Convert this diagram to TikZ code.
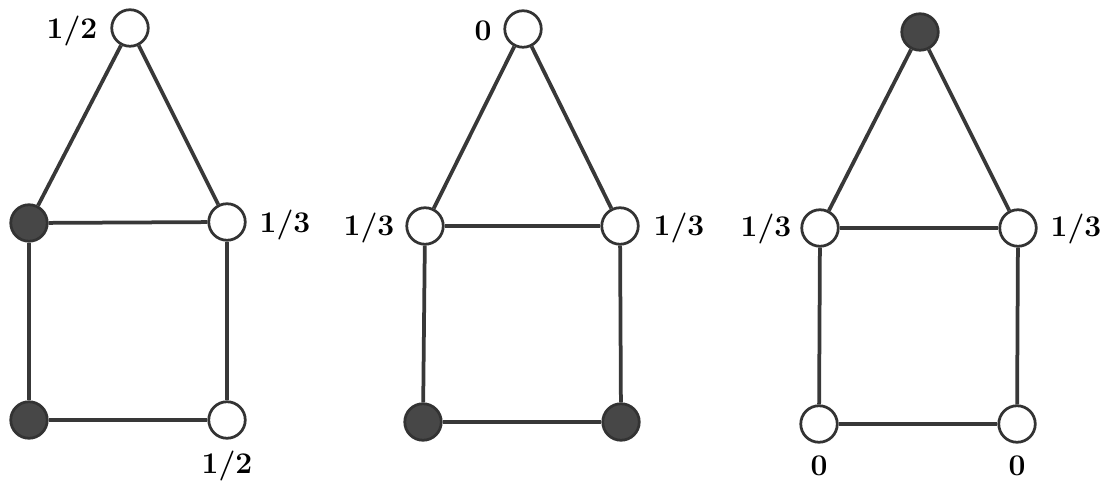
\documentclass[tikz,border=0pt]{standalone}
\usepackage{tikz}
\usetikzlibrary{positioning}

\begin{document}
\begin{tikzpicture}[x=0.4pt, y=-0.4pt,
  vtx/.style={circle, draw=black!80, line width=1.1pt, fill=white, minimum size=14.6pt, inner sep=0pt},
  full/.style={vtx, fill=black!72},
  edge/.style={draw=black!78, line width=1.5pt},
  lbl/.style={font=\large\bfseries, inner sep=0pt}]
  \useasboundingbox (0,0) rectangle (1110,484);

  % First house: two filled vertices on the left
  \node[vtx]  (a1) at (130,28) {};
  \node[full] (a2) at (29,223) {};
  \node[vtx]  (a3) at (227,222) {};
  \node[full] (a4) at (29,420) {};
  \node[vtx]  (a5) at (227,420) {};
  \draw[edge] (a1) -- (a2);
  \draw[edge] (a1) -- (a3);
  \draw[edge] (a2) -- (a3);
  \draw[edge] (a2) -- (a4);
  \draw[edge] (a3) -- (a5);
  \draw[edge] (a4) -- (a5);
  \node[lbl] (la1) at (72,31) {1/2};
  \node[lbl] (la3) at (285,225) {1/3};
  \node[lbl] (la5) at (227,466) {1/2};

  % Second house: filled vertices at the bottom
  \node[vtx]  (b1) at (523,29) {};
  \node[vtx]  (b2) at (425,226) {};
  \node[vtx]  (b3) at (620,226) {};
  \node[full] (b4) at (423,422) {};
  \node[full] (b5) at (621,422) {};
  \draw[edge] (b1) -- (b2);
  \draw[edge] (b1) -- (b3);
  \draw[edge] (b2) -- (b3);
  \draw[edge] (b2) -- (b4);
  \draw[edge] (b3) -- (b5);
  \draw[edge] (b4) -- (b5);
  \node[lbl] (lb1) at (483,31) {0};
  \node[lbl] (lb2) at (369,228) {1/3};
  \node[lbl] (lb3) at (679,228) {1/3};

  % Third house: filled vertex at the top
  \node[full] (c1) at (920,32) {};
  \node[vtx]  (c2) at (820,228) {};
  \node[vtx]  (c3) at (1018,228) {};
  \node[vtx]  (c4) at (819,424) {};
  \node[vtx]  (c5) at (1017,424) {};
  \draw[edge] (c1) -- (c2);
  \draw[edge] (c1) -- (c3);
  \draw[edge] (c2) -- (c3);
  \draw[edge] (c2) -- (c4);
  \draw[edge] (c3) -- (c5);
  \draw[edge] (c4) -- (c5);
  \node[lbl] (lc2) at (766,229) {1/3};
  \node[lbl] (lc3) at (1076,229) {1/3};
  \node[lbl] (lc4) at (819,466) {0};
  \node[lbl] (lc5) at (1017,466) {0};
\end{tikzpicture}
\end{document}
